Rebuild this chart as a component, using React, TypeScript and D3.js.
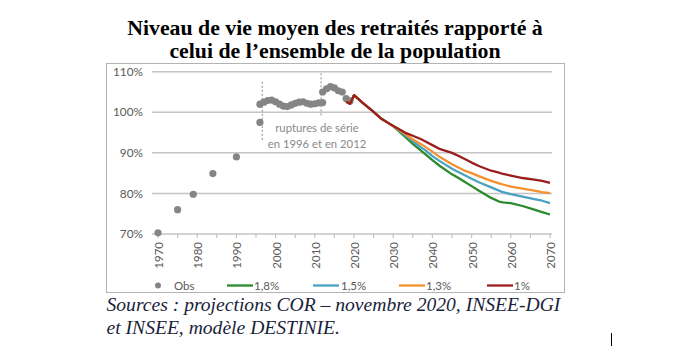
import React from "react";
import * as d3 from "d3";

const titleLines = ["Niveau de vie moyen des retraités rapporté à", "celui de l’ensemble de la population"];
const sourceLines = ["Sources : projections COR – novembre 2020, INSEE-DGI", "et INSEE, modèle DESTINIE."];
const annotationLines = ["ruptures de série", "en 1996 et en 2012"];

const yTicks = [70, 80, 90, 100, 110];
const xLabelYears = [1970, 1980, 1990, 2000, 2010, 2020, 2030, 2040, 2050, 2060, 2070];
const xMinorYears = d3.range(1970, 2071, 5);

// Observed series: [year, %]
const obsYears = [1970, 1975, 1979, 1984, 1990, 1996, 1996, 1997, 1998, 1999, 2000, 2001, 2002, 2003, 2004, 2005, 2006, 2007, 2008, 2009, 2010, 2011, 2012, 2012, 2013, 2014, 2015, 2016, 2017, 2018, 2019];
const obsValues = [70.3, 76.0, 79.8, 84.9, 89.0, 97.5, 102.0, 102.5, 102.9, 103.0, 102.6, 102.0, 101.5, 101.4, 101.8, 102.2, 102.5, 102.6, 102.2, 102.0, 102.1, 102.3, 102.4, 105.0, 105.8, 106.3, 106.0, 105.3, 105.0, 103.4, 102.8];

// series breaks (dashed markers) : [year, from %, to %]
const breakYears = [1996.6, 2011.6];
const breakTop = [107.5, 109.6];
const breakBottom = [93.2, 98.9];

const projYears = [2018, 2019, 2020, 2022, 2025, 2027, 2029, 2030, 2031, 2033, 2035, 2037, 2038, 2040, 2042, 2045, 2047, 2048, 2050, 2052, 2055, 2057, 2058, 2060, 2063, 2066, 2068, 2070];
const proj18 = [102.6, 102.1, 104.2, 102.5, 100.1, 98.4, 97.2, 96.6, 95.7, 94.0, 92.2, 90.6, 89.8, 88.2, 86.7, 84.7, 83.6, 83.0, 81.8, 80.6, 78.9, 78.0, 77.8, 77.6, 76.9, 76.0, 75.4, 74.8];
const proj15 = [102.6, 102.1, 104.2, 102.5, 100.1, 98.4, 97.2, 96.6, 95.9, 94.4, 92.8, 91.4, 90.8, 89.2, 87.9, 86.1, 85.1, 84.6, 83.6, 82.7, 81.5, 80.7, 80.3, 79.8, 79.2, 78.6, 78.2, 77.6];
const proj13 = [102.6, 102.1, 104.2, 102.5, 100.1, 98.4, 97.2, 96.6, 96.0, 94.7, 93.3, 92.2, 91.6, 90.3, 88.9, 87.2, 86.2, 85.7, 85.0, 84.2, 83.1, 82.5, 82.2, 81.7, 81.2, 80.7, 80.3, 80.1];
const proj10 = [102.6, 102.1, 104.2, 102.5, 100.1, 98.4, 97.2, 96.6, 96.1, 95.0, 94.2, 93.4, 92.9, 91.9, 90.9, 90.0, 89.1, 88.6, 87.6, 86.7, 85.6, 85.1, 84.8, 84.4, 83.8, 83.4, 83.1, 82.6];

const seriesNames = ["1,8%", "1,5%", "1,3%", "1%"];
const seriesColors = ["#2b8a2b", "#4aa2c2", "#f4902e", "#9c1d1d"];
const seriesValues = [proj18, proj15, proj13, proj10];

const W = 684;
const H = 356;

export default function App() {
  const x = d3.scaleLinear().domain([1970, 2070]).range([158, 550]);
  const y = d3.scaleLinear().domain([70, 110]).range([234, 71.7]);
  const line = d3
    .line<[number, number]>()
    .x((d) => x(d[0]))
    .y((d) => y(d[1]));

  const font = "Lato, 'Open Sans', sans-serif";
  const gray = "#595959";
  const gridColor = "#c4c4c4";

  const legendItems = [
    { type: "dot", label: "Obs", x0: 158, tx: 174 },
    { type: "line", label: seriesNames[0], color: seriesColors[0], x0: 227, tx: 254 },
    { type: "line", label: seriesNames[1], color: seriesColors[1], x0: 313, tx: 341 },
    { type: "line", label: seriesNames[2], color: seriesColors[2], x0: 399, tx: 426 },
    { type: "line", label: seriesNames[3], color: seriesColors[3], x0: 487, tx: 514 },
  ];

  return (
    <svg width={W} height={H} style={{ position: "absolute", left: 0, top: 0, background: "#fff" }}>
      <rect x={0} y={0} width={W} height={H} fill="#fff" />
      {/* Title */}
      {titleLines.map((t, i) => (
        <text
          key={t}
          x={335}
          y={35 + i * 22.5}
          textAnchor="middle"
          fontFamily="'Liberation Serif', 'Times New Roman', serif"
          fontWeight="bold"
          fontSize={21.8}
          fill="#000"
        >
          {t}
        </text>
      ))}
      {/* chart box */}
      <rect x={106.5} y={63.5} width={458} height={229} fill="none" stroke="#b3b3b3" strokeWidth={1} />

      {/* gridlines */}
      {yTicks.map((v) => (
        <line key={v} x1={152} x2={552} y1={y(v)} y2={y(v)} stroke={gridColor} strokeWidth={1.5} />
      ))}
      {yTicks.map((v) => (
        <text key={"l" + v} x={143} y={y(v)} dy="0.35em" textAnchor="end" fontFamily={font} fontSize={11.8} fill={gray}>
          {v}%
        </text>
      ))}
      {/* x ticks */}
      {xMinorYears.map((yr) => (
        <line key={yr} x1={x(yr)} x2={x(yr)} y1={y(70)} y2={y(70) + 4} stroke={gridColor} strokeWidth={1.2} />
      ))}
      {xLabelYears.map((yr) => (
        <text
          key={"x" + yr}
          transform={`translate(${x(yr) + 1},${242}) rotate(-90)`}
          textAnchor="end"
          dy="0.35em"
          fontFamily={font}
          fontSize={11.5}
          fill={gray}
        >
          {yr}
        </text>
      ))}

      {/* break markers */}
      {breakYears.map((yr, i) => (
        <line
          key={"b" + yr}
          x1={x(yr)}
          x2={x(yr)}
          y1={y(breakTop[i])}
          y2={y(breakBottom[i])}
          stroke="#8c8c8c"
          strokeWidth={1}
          strokeDasharray="2,2"
        />
      ))}

      {/* obs dots */}
      {obsYears.map((yr, i) => (
        <circle key={"o" + i} cx={x(yr)} cy={y(obsValues[i])} r={3.6} fill="#858585" />
      ))}

      {/* projections */}
      {seriesValues.map((vals, si) => (
        <path
          key={seriesNames[si]}
          d={line(projYears.map((yr, i) => [yr, vals[i]] as [number, number])) || ""}
          fill="none"
          stroke={seriesColors[si]}
          strokeWidth={2.3}
          strokeLinejoin="round"
        />
      ))}

      {/* annotation */}
      {annotationLines.map((t, i) => (
        <text key={t} x={317} y={128 + i * 16} dy="0.35em" textAnchor="middle" fontFamily={font} fontSize={11.3} fill="#8a8a8a">
          {t}
        </text>
      ))}

      {/* legend */}
      {legendItems.map((it) => (
        <g key={it.label}>
          {it.type === "dot" ? (
            <circle cx={it.x0} cy={285.5} r={3} fill="#858585" />
          ) : (
            <line x1={it.x0} x2={it.x0 + 26} y1={285.5} y2={285.5} stroke={it.color} strokeWidth={2.3} />
          )}
          <text x={it.tx} y={285.5} dy="0.35em" fontFamily={font} fontSize={11.5} fill={gray}>
            {it.label}
          </text>
        </g>
      ))}

      {/* sources */}
      {sourceLines.map((t, i) => (
        <text
          key={t}
          x={106.5}
          y={311 + i * 22.6}
          fontFamily="'Liberation Serif', 'Times New Roman', serif"
          fontStyle="italic"
          fontSize={19.6}
          fill="#1b1f3b"
        >
          {t}
        </text>
      ))}
      {/* text cursor */}
      <line x1={611.5} x2={611.5} y1={333} y2={346} stroke="#000" strokeWidth={1} />
    </svg>
  );
}
